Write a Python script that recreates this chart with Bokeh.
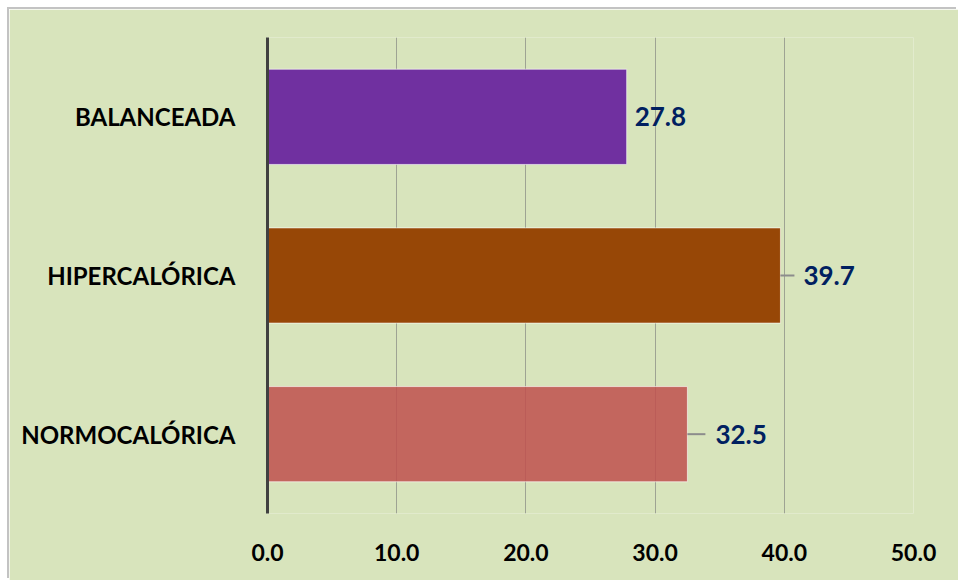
from bokeh.plotting import figure
from bokeh.models import FixedTicker, NumeralTickFormatter, ColumnDataSource
from bokeh.core.properties import value
from bokeh.embed import file_html
from bokeh.resources import INLINE

# ---- data ----
categories = ["BALANCEADA", "HIPERCALÓRICA", "NORMOCALÓRICA"]
values = [27.8, 39.7, 32.5]
bar_colors = ["#7030a0", "#974706", "#c0504d"]
bar_alphas = [1.0, 1.0, 0.85]
value_labels = ["27.8", "39.7", "32.5"]
x_ticks = [0, 10, 20, 30, 40, 50]

# label placement (pixels from bar end) and leader-line lengths (pixels)
label_px = [8, 23, 28]
leader_px = [0, 14, 18]

FONT = "Lato"
BG = "#d8e4bc"

frame_w = 646
x_max = 50
px_per_unit = frame_w / x_max

p = figure(
    width=949, height=571,
    y_range=list(reversed(categories)),
    x_range=(0, x_max),
    output_backend="svg", toolbar_location=None,
    min_border_left=258, min_border_right=45,
    min_border_top=28, min_border_bottom=67,
    margin=(9, 0, 0, 9),
)
p.styles = {"box-shadow": "-2px -2px 0 0 #c3c3c3"}
p.y_range.range_padding = 0
p.background_fill_color = BG
p.border_fill_color = BG
p.outline_line_color = None

src = ColumnDataSource(dict(
    cat=categories, val=values, color=bar_colors, alpha=bar_alphas,
    lab=value_labels,
    lx=[v for v in values],
    loff=label_px,
    lx0=[v for v in values],
    lx1=[v + d / px_per_unit for v, d in zip(values, leader_px)],
))

p.hbar(y="cat", right="val", left=0, height=0.6, source=src,
       fill_color="color", fill_alpha="alpha",
       line_color="white", line_alpha=0.6, line_width=1)

# leader lines
p.segment(x0="lx0", y0="cat", x1="lx1", y1="cat", source=src,
          line_color="#8c8c8c", line_width=2)

p.text(x="lx", y="cat", text="lab", x_offset="loff", source=src,
       text_font=value(FONT), text_font_style="bold", text_font_size="26px",
       text_color="#002060", text_baseline="middle", text_align="left")

# grid
p.ygrid.grid_line_color = None
p.xgrid.grid_line_color = "#9ea393"
p.xgrid.grid_line_width = 1
p.xaxis.ticker = FixedTicker(ticks=x_ticks)
p.xaxis.formatter = NumeralTickFormatter(format="0.0")

# x axis
p.xaxis.axis_line_color = None
p.xaxis.major_tick_line_color = None
p.xaxis.minor_tick_line_color = None
p.xaxis.major_label_text_font = FONT
p.xaxis.major_label_text_font_style = "bold"
p.xaxis.major_label_text_font_size = "23px"
p.xaxis.major_label_text_color = "black"
p.xaxis.major_label_standoff = 24

# y axis
p.yaxis.axis_line_color = "#404040"
p.yaxis.axis_line_width = 3
p.yaxis.major_tick_line_color = None
p.yaxis.minor_tick_line_color = None
p.yaxis.major_label_text_font = FONT
p.yaxis.major_label_text_font_style = "bold"
p.yaxis.major_label_text_font_size = "24px"
p.yaxis.major_label_text_color = "black"
p.yaxis.major_label_standoff = 26

open("out.html", "w").write(file_html(p, INLINE))
